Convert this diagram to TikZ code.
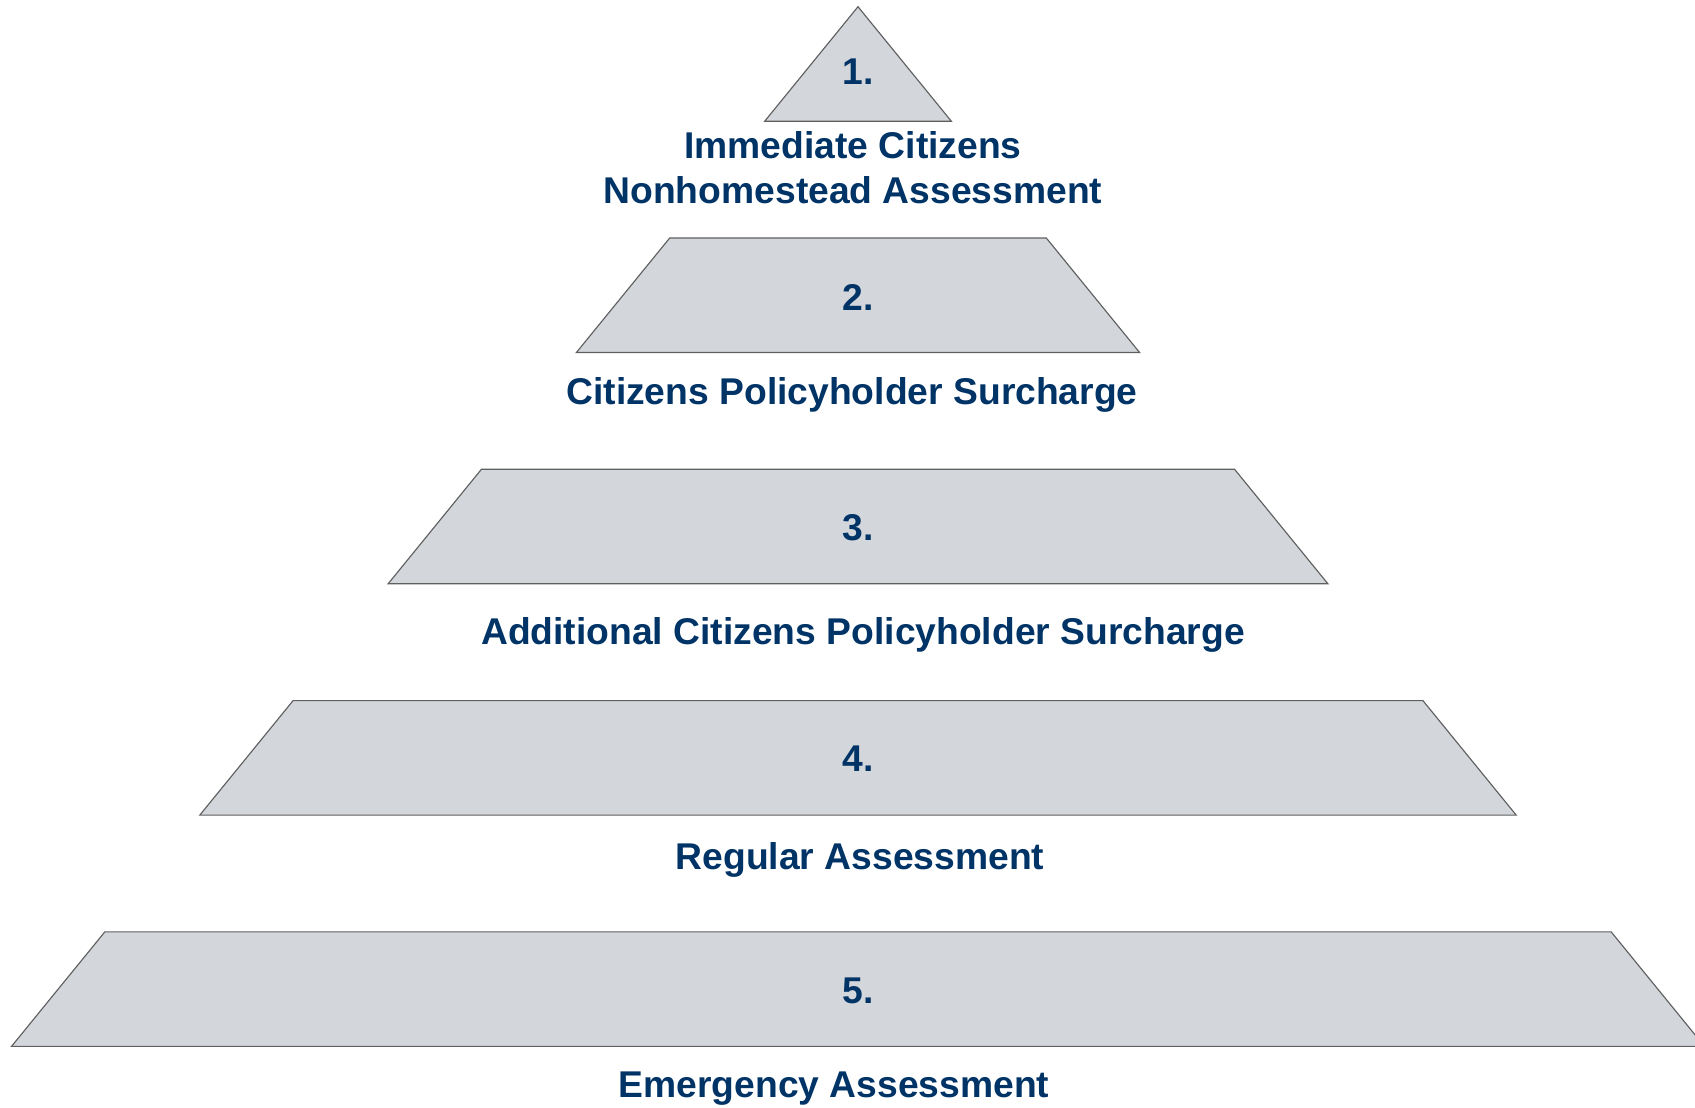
\documentclass[tikz,border=0pt]{standalone}
\usepackage{fontspec}
\setmainfont{Liberation Sans}
\usepackage{xcolor}
\definecolor{TierFill}{HTML}{D3D6DB}
\definecolor{TierLine}{HTML}{5F5F5F}
\definecolor{TierBlue}{HTML}{003366}

\begin{document}
\begin{tikzpicture}[
  x=0.02cm, y=-0.02cm,
  tier/.style={fill=TierFill,draw=TierLine,line width=0.65pt},
  num/.style={text=TierBlue,font=\fontsize{21.2}{25}\selectfont\bfseries,inner sep=0pt},
  lbl/.style={text=TierBlue,font=\fontsize{21.2}{25.6}\selectfont\bfseries,align=center,inner sep=0pt}
]
\clip (0,0) rectangle (1695,1107);
% top triangle, then four trapezoids widening by 188.3 per tier
\draw[tier] (858,6.7) -- (951.3,121.2) -- (764.7,121.2) -- cycle;
\foreach \k in {1,...,4}{
  \pgfmathsetmacro{\yt}{6.7+231.3*\k}
  \pgfmathsetmacro{\yb}{\yt+114.5}
  \pgfmathsetmacro{\wt}{188.3*\k}
  \pgfmathsetmacro{\wb}{\wt+93.3}
  \draw[tier] (858-\wt,\yt) -- (858+\wt,\yt) -- (858+\wb,\yb) -- (858-\wb,\yb) -- cycle;
}
% tier numbers
\node[num] (n1) at (858,72) {1.};
\node[num] (n2) at (858,297) {2.};
\node[num] (n3) at (858,528) {3.};
\node[num] (n4) at (858,759) {4.};
\node[num] (n5) at (858,991) {5.};
% captions under each tier
\node[lbl] (l1) at (853,168) {Immediate Citizens\\Nonhomestead Assessment};
\node[lbl] (l2) at (852,395) {Citizens Policyholder Surcharge};
\node[lbl] (l3) at (863,635) {Additional Citizens Policyholder Surcharge};
\node[lbl] (l4) at (860,860) {Regular Assessment};
\node[lbl] (l5) at (834,1089) {Emergency Assessment};
\end{tikzpicture}
\end{document}
